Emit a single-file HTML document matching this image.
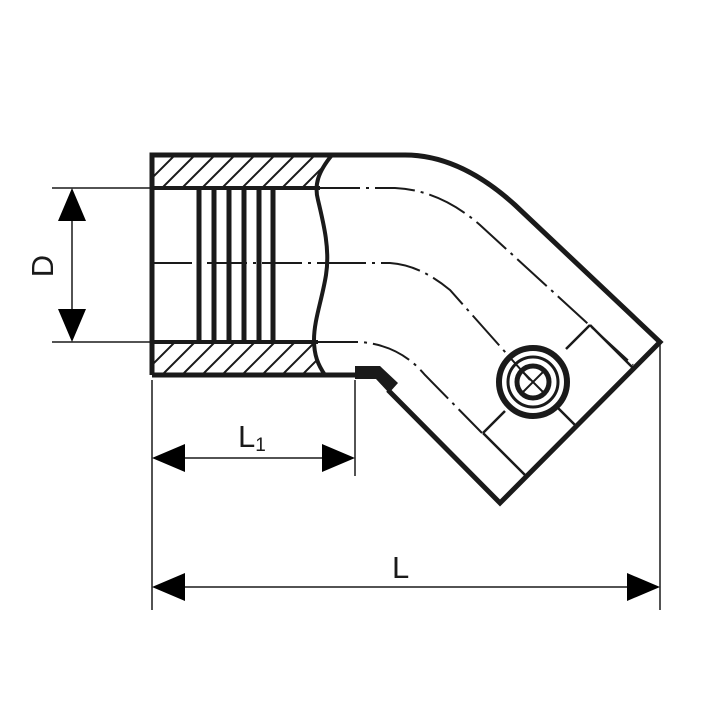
<!DOCTYPE html>
<html><head><meta charset="utf-8"><style>html,body{margin:0;padding:0;background:#fff}svg{display:block}</style></head><body>
<svg width="720" height="717" viewBox="0 0 720 717" xmlns="http://www.w3.org/2000/svg">
<defs>
<clipPath id="ht"><path d="M152,155 L332,155 C318,170 316,180 318,188 L152,188 Z"/></clipPath>
<clipPath id="hb"><path d="M152,342 L315,342 C314,355 318,365 325,375 L152,375 Z"/></clipPath>
</defs>
<g stroke="#1a1a1a" fill="none">
<g stroke-width="2" clip-path="url(#ht)">
<path d="M150,200 L200,150 M170,200 L220,150 M190,200 L240,150 M210,200 L260,150 M230,200 L280,150 M250,200 L300,150 M270,200 L320,150 M290,200 L340,150 M310,200 L360,150 M130,200 L180,150"/>
</g>
<g stroke-width="2" clip-path="url(#hb)">
<path d="M150,387 L200,337 M170,387 L220,337 M190,387 L240,337 M210,387 L260,337 M230,387 L280,337 M250,387 L300,337 M270,387 L320,337 M290,387 L340,337 M310,387 L360,337 M130,387 L180,337"/>
</g>
<path d="M152,375 L152,155 L405,155 Q460,155 515,205 L660,342 L500,503 L388,390" stroke-width="5" stroke-linejoin="miter"/>
<path d="M152,375 L355,375" stroke-width="5"/>
<path d="M355,366 L380,366 L398,383 L389,393 L376,379 L355,379 Z" fill="#1a1a1a" stroke="none"/>
<path d="M152,188 L320,188 M152,342 L318,342" stroke-width="4"/>
<path d="M332,155 C318,172 314,185 318,200 C324,225 330,250 326,275 C322,300 314,320 314,340 C314,355 318,365 325,375" stroke-width="4"/>
<path d="M199,188 V342 M214,188 V342 M229,188 V342 M244,188 V342 M259,188 V342 M273,188 V342" stroke-width="5"/>
<path d="M152,263 L330,263" stroke-width="2" stroke-dasharray="40,6,3,6"/>
<path d="M320,188 L395,188 Q440,190 480,225 L633,365" stroke-width="2" stroke-dasharray="40,6,3,6"/>
<path d="M326,263 L390,263 Q420,265 450,290 L530,380" stroke-width="2" stroke-dasharray="40,6,3,6"/>
<path d="M318,342 L360,342 Q400,345 425,375 L482,433" stroke-width="2" stroke-dasharray="40,6,3,6"/>
<path d="M483,433 L526,476 M483,433 L505,411 M590,325 L634,369 M590,325 L566,349 M558,408 L577,427" stroke-width="2.5"/>
<circle cx="533" cy="382" r="34" stroke-width="6"/>
<circle cx="533" cy="382" r="25" stroke-width="3"/>
<circle cx="533" cy="382" r="16" stroke-width="5"/>
<path d="M522,371 L544,393 M544,371 L522,393" stroke-width="2"/>
<path d="M52,188 H152 M52,342 H152 M72,215 V315" stroke-width="1.5"/>
<path d="M152,380 V610 M355,380 V476 M660,342 V610 M180,458 H328 M180,587 H632" stroke-width="1.5"/>
</g>
<g fill="#000">
<path d="M72,188 L58,221 L86,221 Z M72,342 L58,309 L86,309 Z"/>
<path d="M152,458 L185,444 L185,472 Z M355,458 L322,444 L322,472 Z"/>
<path d="M152,587 L185,573 L185,601 Z M660,587 L627,573 L627,601 Z"/>
</g>
<text x="0" y="0" transform="translate(53,266) rotate(-90)" text-anchor="middle" font-family="Liberation Sans, sans-serif" font-size="31" fill="#1a1a1a">D</text>
<text x="238" y="447" font-family="Liberation Sans, sans-serif" font-size="31" fill="#1a1a1a">L<tspan font-size="19" dy="4">1</tspan></text>
<text x="392" y="578" font-family="Liberation Sans, sans-serif" font-size="31" fill="#1a1a1a">L</text>
</svg>
</body></html>
